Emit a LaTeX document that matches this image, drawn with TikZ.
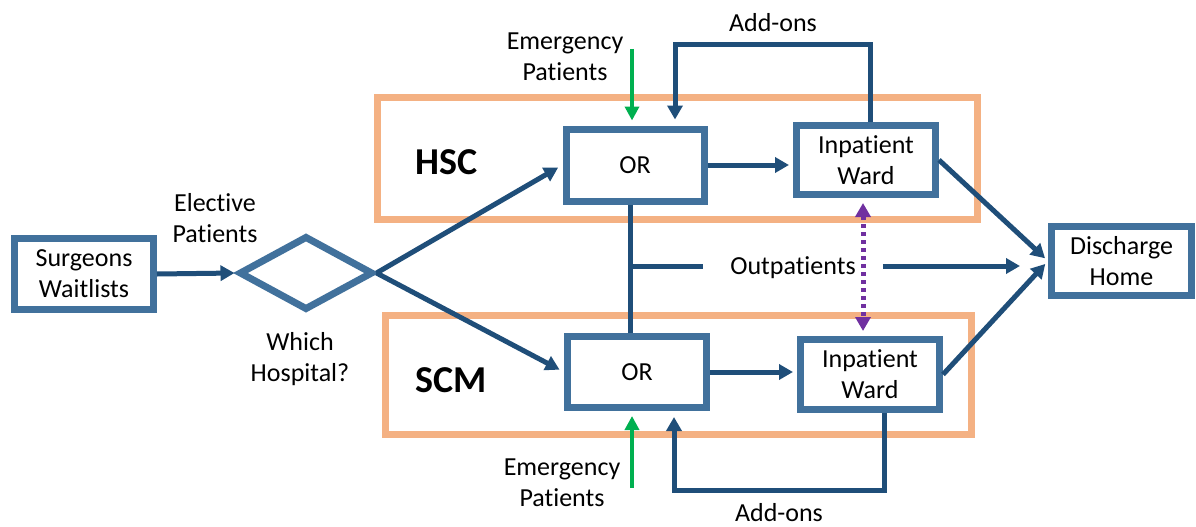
\documentclass[tikz,border=0pt]{standalone}
\usepackage{fontspec}
\setmainfont[RawFeature={-liga;-calt;-clig;-dlig}]{Carlito}
\usetikzlibrary{arrows.meta,shapes.geometric,calc}
\definecolor{boxblue}{HTML}{41719C}
\definecolor{navy}{HTML}{1F4E79}
\definecolor{orng}{HTML}{F4B183}
\definecolor{grn}{HTML}{00B050}
\definecolor{purp}{HTML}{7030A0}
\begin{document}
\begin{tikzpicture}[x=1pt,y=-1pt,
  every node/.style={font=\fontsize{26}{31}\selectfont},
  bluebox/.style={draw=boxblue, line width=7pt, fill=white, align=center, inner sep=0pt},
  hosp/.style={draw=orng, line width=7pt},
  hlabel/.style={font=\fontsize{38}{44}\selectfont\bfseries, inner sep=0pt},
  arr/.style={draw=navy, line width=5pt, -{Triangle[length=14pt,width=15pt]}},
  conn/.style={draw=navy, line width=5pt},
  garr/.style={draw=grn, line width=4.5pt, -{Triangle[length=14pt,width=14pt]}},
  parr/.style={draw=purp, line width=5pt, dash pattern=on 4pt off 4pt, {Triangle[length=14pt,width=15pt]}-{Triangle[length=14pt,width=15pt]}},
  lbl/.style={align=center, inner sep=0pt}
]
\useasboundingbox[fill=white] (0,0) rectangle (1196,527);

% hospital frames
\draw[hosp] (377,97) rectangle (977,219);
\draw[hosp] (385,315) rectangle (971,434);
\node[hlabel] (hsc) at (447,162) {HSC};
\node[hlabel] (scm) at (451,380) {SCM};

% boxes
\node[bluebox, minimum width=139pt, minimum height=71pt] (sw) at (84,274) {Surgeons\\Waitlists};
\node[draw=boxblue, line width=7pt, diamond, minimum width=134pt, minimum height=74pt, inner sep=0pt] (dia) at (306,273) {};
\node[bluebox, minimum width=138pt, minimum height=72pt] (orh) at (635,165) {OR};
\node[bluebox, minimum width=139pt, minimum height=69pt] (wh) at (866,160) {Inpatient\\Ward};
\node[bluebox, minimum width=139pt, minimum height=71pt] (ors) at (637,372) {OR};
\node[bluebox, minimum width=139pt, minimum height=70pt] (ws) at (870,374.5) {Inpatient\\Ward};
\node[bluebox, minimum width=140pt, minimum height=69pt] (dh) at (1121.5,261) {Discharge\\Home};

% labels
\node[lbl] (elec) at (215,218) {Elective\\Patients};
\node[lbl] (which) at (300,359) {Which\\Hospital?};
\node[lbl] (emt) at (565,57) {Emergency\\Patients};
\node[lbl] (addt) at (773,23) {Add-ons};
\node[lbl] (emb) at (562,483) {Emergency\\Patients};
\node[lbl] (addb) at (779,513) {Add-ons};
\node[inner xsep=27pt, inner ysep=0pt] (outp) at (793,268) {Outpatients};

% connectors
\draw[arr, shorten >=1pt] (sw.east) -- (dia.west);
\draw[arr, shorten >=5pt] (dia.east) -- (orh.west);
\draw[arr, shorten >=5pt] (dia.east) -- (ors.west);
\draw[arr, shorten >=4pt] (orh.east) -- (orh.east -| wh.west);
\draw[arr, shorten >=4pt] (ors.east) -- (ors.east -| ws.west);
\draw[arr, shorten >=4pt] (wh.east) -- (dh.west);
\draw[arr, shorten >=4pt] (ws.east) -- (dh.west);

% add-ons loops
\coordinate (at) at (870,45);
\draw[arr, shorten >=6pt] (wh.north -| at) -- (at) -| ($(orh.north)+(40,0)$);
\coordinate (ab) at (884,490);
\draw[arr, shorten >=6pt] (ws.south -| ab) -- (ab) -| ($(ors.south)+(37,0)$);

% emergency arrows
\coordinate (et) at (632,49);
\draw[garr, shorten >=5pt] (et) -- (et |- orh.north);
\coordinate (eb) at (632,488);
\draw[garr, shorten >=5pt] (eb) -- (eb |- ors.south);

% outpatients
\coordinate (vj) at (630,266);
\draw[conn] (orh.south -| vj) -- (ors.north -| vj);
\draw[conn] (vj) -- (vj -| outp.west);
\draw[arr, shorten >=28pt] (vj -| outp.east) -- (vj -| dh.west);

% purple transfer
\coordinate (pu) at (863,266);
\draw[parr, shorten <=5pt, shorten >=5pt] (wh.south -| pu) -- (ws.north -| pu);
\end{tikzpicture}
\end{document}
